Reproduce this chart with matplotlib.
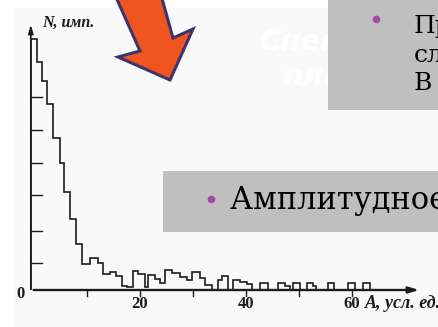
import matplotlib.pyplot as plt
from matplotlib.patches import Polygon, Rectangle

W, H = 439, 327

# амплитудный спектр: границы каналов (A, усл. ед.) и отсчёты (отн. ед.)
edges = [-0.6, 0.6, 1.5, 2.5, 3.6, 4.9, 5.7, 6.8, 7.9, 9.1, 10.6, 12.1, 13.0, 14.3,
         15.5, 16.6, 17.5, 18.7, 19.6, 20.9, 21.5, 22.8, 23.8, 24.7, 26.0, 27.5,
         28.9, 29.8, 31.3, 32.3, 33.6, 34.7, 35.5, 36.6, 37.5, 38.9, 40.2, 41.1,
         42.6, 44.2, 46.0, 47.4, 48.3, 48.9, 50.2, 51.5, 52.6, 53.2, 55.5, 56.6,
         59.2, 60.6, 62.1, 63.4]
counts = [251, 228, 209, 186, 152, 127, 98, 71, 46, 26, 32, 27, 16, 18, 14, 4, 3,
          19, 16, 3, 15, 11, 7, 20, 17, 13, 10, 18, 12, 5, 0, 10, 14, 0, 10, 8, 6,
          0, 7, 0, 7, 4, 0, 7, 0, 7, 4, 0, 7, 0, 7, 0, 7]

x_ticks = [10, 20, 30, 40, 50, 60]
x_ticklabels = ["20", "40", "60"]
y_ticks = [27, 59, 95, 127, 160, 193]

fig = plt.figure(figsize=(W / 100, H / 100), dpi=100)
fig.patch.set_facecolor("white")

# фон картинки со сканом
bg = fig.add_axes([0, 0, 1, 1], zorder=0)
bg.set_xlim(0, W)
bg.set_ylim(H, 0)
bg.axis("off")
bg.add_patch(Rectangle((13, 8), W - 13, H - 8, facecolor="#f9f9f9", edgecolor="none"))

# ---------------- гистограмма ----------------
ax = fig.add_axes([0, 0, 1, 1], zorder=1)
ax.patch.set_alpha(0)
ax.set_xlim(-34 / 5.3, 405 / 5.3)
ax.set_ylim(-37, 290)
ax.axis("off")

x0 = edges[0]
ax.stairs(counts, edges, color="#1c1c1c", linewidth=1.2)

# оси со стрелками
ax.annotate("", xy=(x0, 268), xytext=(x0, -1),
            arrowprops=dict(arrowstyle="-|>,head_length=0.5,head_width=0.15",
                            color="#1c1c1c", lw=1.2))
ax.annotate("", xy=(73.2, 0), xytext=(x0, 0),
            arrowprops=dict(arrowstyle="-|>,head_length=0.6,head_width=0.18",
                            color="#1c1c1c", lw=1.7))
for yt in y_ticks:
    ax.plot([x0, x0 + 2.2], [yt, yt], color="#1c1c1c", lw=1.0)
for xt in x_ticks:
    ax.plot([xt, xt], [0, -6], color="#1c1c1c", lw=1.0)

serif = ["Liberation Serif", "DejaVu Serif"]
for xt, lab in zip(x_ticks[1::2], x_ticklabels):
    ax.text(xt, -14, lab, ha="center", va="center", fontsize=12,
            fontweight="bold", family=serif, color="#1c1c1c")
ax.text(-2.6, -4, "0", ha="center", va="center", fontsize=12,
        fontweight="bold", family=serif, color="#1c1c1c")
ax.text(1.5, 267, "N, имп.", ha="left", va="center", fontsize=11.5,
        fontweight="bold", fontstyle="italic", family=serif, color="#1c1c1c")
ax.text(62.4, -14, "A, усл. ед.", ha="left", va="center", fontsize=13,
        fontweight="bold", fontstyle="italic", family=serif, color="#1c1c1c")

# ---------------- элементы слайда ----------------
ov = fig.add_axes([0, 0, 1, 1], zorder=2)
ov.patch.set_alpha(0)
ov.set_xlim(0, W)
ov.set_ylim(H, 0)
ov.axis("off")

# бледный заголовок (белым, почти не виден, уходит под плашку)
ov.text(260, 42, "Спектр", ha="left", va="center", fontsize=21, fontweight="bold",
        fontstyle="italic", color="white", family="DejaVu Sans", zorder=0.5)
ov.text(282, 77, "плот", ha="left", va="center", fontsize=21, fontweight="bold",
        fontstyle="italic", color="white", family="DejaVu Sans", zorder=0.5)

# стрелка
arrow_pts = [(115, -5), (140, 51), (118, 57), (170, 80), (193, 29), (173, 38), (161, -5)]
ov.add_patch(Polygon(arrow_pts, closed=True, facecolor="#f0551f",
                     edgecolor="#3b3470", linewidth=2.2, joinstyle="miter"))

# серые плашки с текстом
ov.add_patch(Rectangle((328, -2), 115, 112, facecolor="#bfbfbf", edgecolor="none"))
ov.add_patch(Rectangle((163, 171), 280, 61, facecolor="#bfbfbf", edgecolor="none"))

ov.plot([376], [19], "o", color="#a44aa8", markersize=4.5)
ov.plot([211], [199], "o", color="#a44aa8", markersize=4.5)

box_font = ["DejaVu Serif"]
lines1 = ["Пример", "слева", "В"]
for i, s in enumerate(lines1):
    ov.text(414, 26 + 29 * i, s, ha="left", va="center", fontsize=18,
            family=box_font, color="black")
ov.text(230, 201, "Амплитудное распределение", ha="left", va="center",
        fontsize=22, family=box_font, color="black")

fig.savefig("out.png", dpi=100, facecolor=fig.get_facecolor())
